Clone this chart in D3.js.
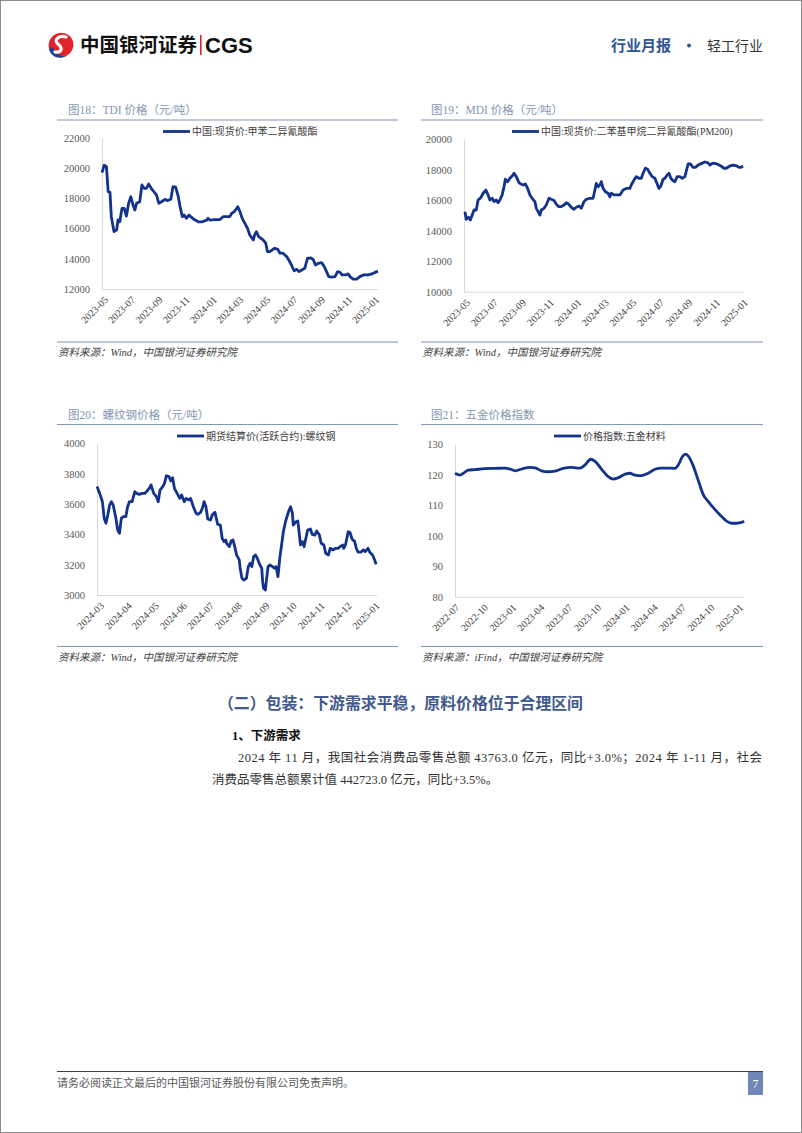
<!DOCTYPE html>
<html lang="zh">
<head>
<meta charset="UTF-8">
<title>轻工行业 月报</title>
<script src="https://cdn.jsdelivr.net/npm/d3@7/dist/d3.min.js"></script>
<style>
  * { box-sizing: border-box; padding: 0; margin: 0; border: 0; }
  body { background: #fff; }
</style>
</head>
<body>
<svg id="page" width="802" height="1133"></svg>
<script>
// ---------- data ----------
var tdiDates = ["2023-04-27","2023-05-02","2023-05-07","2023-05-11","2023-05-15","2023-05-18","2023-05-24","2023-05-30","2023-06-02","2023-06-06","2023-06-11","2023-06-16","2023-06-21","2023-06-26","2023-07-01","2023-07-06","2023-07-10","2023-07-14","2023-07-21","2023-07-26","2023-07-31","2023-08-05","2023-08-10","2023-08-16","2023-08-22","2023-08-28","2023-09-02","2023-09-08","2023-09-16","2023-09-21","2023-09-29","2023-10-04","2023-10-10","2023-10-16","2023-10-20","2023-10-25","2023-10-29","2023-11-03","2023-11-09","2023-11-13","2023-11-21","2023-11-30","2023-12-09","2023-12-19","2023-12-22","2023-12-26","2024-01-06","2024-01-18","2024-01-25","2024-02-09","2024-02-13","2024-02-19","2024-02-27","2024-03-03","2024-03-08","2024-03-14","2024-03-20","2024-03-25","2024-04-02","2024-04-05","2024-04-09","2024-04-14","2024-04-24","2024-04-30","2024-05-04","2024-05-09","2024-05-14","2024-05-20","2024-05-27","2024-06-01","2024-06-08","2024-06-16","2024-06-21","2024-06-27","2024-07-03","2024-07-09","2024-07-14","2024-07-20","2024-07-27","2024-08-02","2024-08-10","2024-08-15","2024-08-20","2024-08-26","2024-09-03","2024-09-09","2024-09-14","2024-09-19","2024-09-25","2024-10-03","2024-10-09","2024-10-14","2024-10-19","2024-10-27","2024-11-02","2024-11-06","2024-11-13","2024-11-21","2024-11-28","2024-12-06","2024-12-17","2024-12-25","2025-01-05","2025-01-08"];
var tdiPrices = [19700,20200,20100,18450,18400,16790,15800,15900,16570,16450,17340,17340,16830,17680,18110,17560,17230,17680,17780,18890,18670,18670,18950,18670,18440,18220,17680,17780,17940,17850,17940,18780,18750,18110,17450,16790,16900,16680,16900,16790,16600,16450,16450,16560,16680,16560,16600,16600,16790,16790,17000,17120,17450,17120,16680,16350,16020,15580,15250,15580,15800,15470,15250,15030,14470,14470,14580,14700,14630,14370,14370,14150,13920,13590,13210,13300,13150,13260,13370,14020,14060,13950,13590,13700,13740,13480,13150,12820,12780,12820,13150,13110,12930,12930,13000,12820,12660,12660,12820,12930,12930,13000,13150,13150];

var mdiDates = ["2023-04-29","2023-05-02","2023-05-07","2023-05-11","2023-05-15","2023-05-19","2023-05-24","2023-05-28","2023-06-03","2023-06-08","2023-06-14","2023-06-19","2023-06-23","2023-06-28","2023-07-02","2023-07-07","2023-07-11","2023-07-15","2023-07-20","2023-07-24","2023-07-27","2023-08-01","2023-08-06","2023-08-11","2023-08-15","2023-08-20","2023-08-26","2023-08-30","2023-09-04","2023-09-09","2023-09-14","2023-09-19","2023-09-24","2023-09-30","2023-10-03","2023-10-07","2023-10-11","2023-10-14","2023-10-20","2023-10-25","2023-10-31","2023-11-05","2023-11-11","2023-11-16","2023-11-21","2023-11-27","2023-12-03","2023-12-08","2023-12-13","2023-12-19","2023-12-25","2023-12-30","2024-01-05","2024-01-10","2024-01-16","2024-01-21","2024-01-29","2024-02-05","2024-02-09","2024-02-12","2024-02-16","2024-02-20","2024-02-23","2024-02-27","2024-03-03","2024-03-09","2024-03-13","2024-03-16","2024-03-22","2024-03-28","2024-04-04","2024-04-11","2024-04-18","2024-04-26","2024-04-29","2024-05-05","2024-05-10","2024-05-16","2024-05-21","2024-05-25","2024-05-30","2024-06-04","2024-06-09","2024-06-14","2024-06-20","2024-06-23","2024-06-29","2024-07-03","2024-07-08","2024-07-12","2024-07-17","2024-07-21","2024-07-25","2024-07-30","2024-08-03","2024-08-08","2024-08-14","2024-08-19","2024-08-25","2024-08-29","2024-09-01","2024-09-06","2024-09-12","2024-09-17","2024-09-23","2024-10-01","2024-10-08","2024-10-14","2024-10-19","2024-10-24","2024-10-30","2024-11-05","2024-11-12","2024-11-19","2024-11-24","2024-12-02","2024-12-09","2024-12-17","2024-12-22","2024-12-26","2024-12-31"];
var mdiPrices = [15250,14750,14880,14700,15030,15360,15360,16020,16170,16460,16670,16350,16020,16130,15910,16020,15840,16020,16350,16890,17380,17220,17440,17590,17770,17550,17150,17070,17000,17070,16780,16350,16130,15910,15470,15250,15030,15360,15470,15690,16130,16060,15980,15750,15580,15580,15690,15840,15750,15540,15410,15540,15620,15470,15910,16060,16130,16130,16670,17110,16890,17000,17220,16780,16560,16460,16230,16460,16350,16350,16350,16670,16780,16780,17000,17330,17550,17440,17440,17770,18100,18030,17770,17550,17440,17220,16780,16930,17380,17440,17660,17770,17440,17280,17220,17550,17550,17440,17550,18030,18380,18380,18160,18160,18310,18420,18510,18470,18310,18420,18420,18360,18250,18100,18100,18250,18310,18250,18160,18160,18250];

var rebarDates = ["2024-02-27","2024-03-01","2024-03-04","2024-03-06","2024-03-08","2024-03-10","2024-03-12","2024-03-14","2024-03-16","2024-03-19","2024-03-21","2024-03-23","2024-03-25","2024-03-27","2024-03-30","2024-04-01","2024-04-03","2024-04-06","2024-04-09","2024-04-11","2024-04-14","2024-04-17","2024-04-20","2024-04-22","2024-04-25","2024-04-27","2024-04-30","2024-05-03","2024-05-05","2024-05-07","2024-05-10","2024-05-12","2024-05-14","2024-05-17","2024-05-19","2024-05-21","2024-05-23","2024-05-26","2024-05-29","2024-05-31","2024-06-03","2024-06-05","2024-06-08","2024-06-10","2024-06-13","2024-06-16","2024-06-18","2024-06-21","2024-06-23","2024-06-25","2024-06-27","2024-06-29","2024-07-02","2024-07-04","2024-07-07","2024-07-09","2024-07-10","2024-07-13","2024-07-15","2024-07-17","2024-07-19","2024-07-20","2024-07-23","2024-07-25","2024-07-27","2024-07-29","2024-07-31","2024-08-03","2024-08-04","2024-08-06","2024-08-08","2024-08-11","2024-08-13","2024-08-15","2024-08-17","2024-08-19","2024-08-21","2024-08-23","2024-08-26","2024-08-28","2024-08-29","2024-08-30","2024-09-01","2024-09-02","2024-09-04","2024-09-06","2024-09-09","2024-09-11","2024-09-13","2024-09-15","2024-09-17","2024-09-19","2024-09-21","2024-09-23","2024-09-25","2024-09-27","2024-09-29","2024-10-01","2024-10-02","2024-10-05","2024-10-07","2024-10-08","2024-10-10","2024-10-12","2024-10-14","2024-10-16","2024-10-18","2024-10-21","2024-10-23","2024-10-26","2024-10-28","2024-10-31","2024-11-02","2024-11-05","2024-11-07","2024-11-10","2024-11-12","2024-11-15","2024-11-18","2024-11-21","2024-11-23","2024-11-26","2024-11-27","2024-11-29","2024-12-02","2024-12-04","2024-12-06","2024-12-07","2024-12-09","2024-12-11","2024-12-13","2024-12-16","2024-12-19","2024-12-21","2024-12-24","2024-12-26","2024-12-29","2024-12-31","2025-01-02"];
var rebarPrices = [3715,3670,3615,3505,3473,3527,3593,3615,3593,3505,3428,3407,3505,3516,3516,3582,3615,3615,3681,3670,3663,3670,3670,3681,3703,3725,3670,3648,3615,3692,3714,3736,3786,3780,3752,3773,3703,3670,3637,3659,3615,3637,3626,3637,3582,3539,3532,3545,3571,3615,3582,3501,3494,3527,3545,3494,3466,3461,3374,3352,3363,3341,3319,3356,3363,3319,3264,3231,3176,3110,3099,3110,3187,3209,3187,3253,3264,3242,3198,3176,3088,3044,3033,3088,3187,3198,3187,3176,3187,3121,3242,3330,3417,3473,3516,3554,3582,3539,3461,3483,3488,3440,3330,3352,3319,3374,3428,3435,3400,3395,3422,3395,3341,3330,3275,3264,3308,3297,3308,3308,3319,3330,3308,3330,3417,3412,3374,3363,3356,3308,3282,3282,3297,3286,3308,3282,3264,3237,3202];

var hwDates = ["2022-07-01","2022-07-17","2022-07-28","2022-08-12","2022-09-03","2022-10-05","2022-11-07","2022-12-09","2022-12-25","2023-01-12","2023-02-01","2023-02-28","2023-03-16","2023-04-06","2023-04-28","2023-05-19","2023-06-15","2023-07-12","2023-08-08","2023-08-24","2023-09-12","2023-09-25","2023-10-17","2023-11-07","2023-11-23","2023-12-09","2024-01-01","2024-01-16","2024-02-01","2024-02-22","2024-03-15","2024-04-06","2024-04-27","2024-05-19","2024-06-09","2024-06-20","2024-07-03","2024-07-14","2024-07-24","2024-08-07","2024-08-23","2024-09-09","2024-09-25","2024-10-11","2024-11-02","2024-11-23","2024-12-09","2024-12-25","2025-01-10","2025-01-19"];
var hwIndex = [120.5,119.9,120.5,121.5,121.7,122.0,122.1,122.2,121.9,121.3,121.9,122.4,122.3,121.3,121.0,121.2,122.1,122.4,122.2,123.2,125.1,124.5,121.8,119.4,118.6,119.0,120.2,120.5,119.9,119.7,120.5,121.8,122.2,122.2,122.1,123.2,125.9,126.8,125.9,123.0,118.3,113.4,111.2,109.2,106.8,104.8,104.1,104.1,104.4,104.6];

var tdiTicks = ["2023-05","2023-07","2023-09","2023-11","2024-01","2024-03","2024-05","2024-07","2024-09","2024-11","2025-01"];
var mdiTicks = ["2023-05","2023-07","2023-09","2023-11","2024-01","2024-03","2024-05","2024-07","2024-09","2024-11","2025-01"];
var rebarTicks = ["2024-03","2024-04","2024-05","2024-06","2024-07","2024-08","2024-09","2024-10","2024-11","2024-12","2025-01"];
var hwTicks = ["2022-07","2022-10","2023-01","2023-04","2023-07","2023-10","2024-01","2024-04","2024-07","2024-10","2025-01"];

var tdiYTicks = [12000,14000,16000,18000,20000,22000];
var mdiYTicks = [10000,12000,14000,16000,18000,20000];
var rebarYTicks = [3000,3200,3400,3600,3800,4000];
var hwYTicks = [80,90,100,110,120,130];

// ---------- page ----------
var SERIF = "'Liberation Serif','Times New Roman','Noto Sans CJK SC',serif";
var SANS = "'Liberation Sans','Noto Sans CJK SC',sans-serif";
var lineColor = "#12328c";
var frameColor = "#8497b0";

var parseDay = d3.timeParse("%Y-%m-%d");
var parseMonth = d3.timeParse("%Y-%m");
var fmtMonth = d3.timeFormat("%Y-%m");

var svg = d3.select("#page");

svg.append("rect").attr("x", 0.5).attr("y", 0.5).attr("width", 801).attr("height", 1132)
    .attr("fill", "#fff").attr("stroke", "#8c8c8c");

// header logo
var logo = svg.append("g").attr("transform", "translate(61,45)");
logo.append("ellipse").attr("rx", 12.5).attr("ry", 12).attr("fill", "#e1232b")
    .attr("transform", "rotate(-30)");
logo.append("path").attr("d", "M-12,4 C-10,12 -2,15 6,11 C0,12 -6,9 -8,2 Z").attr("fill", "#1e3f93");
logo.append("path").attr("d", "M5,-8 C-2,-10 -8,-5 -3,-1 C2,3 1,8 -6,7")
    .attr("fill", "none").attr("stroke", "#fff").attr("stroke-width", 3.2).attr("stroke-linecap", "round");

svg.append("text").attr("x", 80).attr("y", 52).text("中国银河证券")
    .attr("font-family", "'Noto Sans CJK SC',sans-serif").attr("font-weight", 700)
    .attr("font-size", 19.5).attr("fill", "#111");
svg.append("rect").attr("x", 200).attr("y", 35).attr("width", 1.6).attr("height", 20).attr("fill", "#d9252b");
svg.append("text").attr("x", 205).attr("y", 53).text("CGS")
    .attr("font-family", SANS).attr("font-weight", 700).attr("font-size", 22).attr("fill", "#111");

svg.append("text").attr("x", 611).attr("y", 51).text("行业月报")
    .attr("font-family", SERIF).attr("font-size", 15).attr("font-weight", 700).attr("fill", "#2f5597");
svg.append("circle").attr("cx", 689).attr("cy", 45.5).attr("r", 2).attr("fill", "#2f5597");
svg.append("text").attr("x", 707).attr("y", 51).text("轻工行业")
    .attr("font-family", SERIF).attr("font-size", 14).attr("fill", "#333");

// ---------- charts ----------
var charts = [
    { title: "图18：TDI 价格（元/吨）", legend: "中国:现货价:甲苯二异氰酸酯", source: "资料来源：Wind，中国银河证券研究院",
      dates: tdiDates, values: tdiPrices, ticks: tdiTicks, yTicks: tdiYTicks,
      left: 57, right: 398, top: 120, bottom: 342, titleX: 68,
      px: [102, 378], py: [289, 138], xd: ["2023-04-27", "2025-01-08"], legendX: 163, curve: d3.curveLinear },
    { title: "图19：MDI 价格（元/吨）", legend: "中国:现货价:二苯基甲烷二异氰酸酯(PM200)", source: "资料来源：Wind，中国银河证券研究院",
      dates: mdiDates, values: mdiPrices, ticks: mdiTicks, yTicks: mdiYTicks,
      left: 421, right: 763, top: 120, bottom: 342, titleX: 431,
      px: [464, 744], py: [291.7, 139.3], xd: ["2023-04-27", "2025-01-02"], legendX: 512, curve: d3.curveLinear },
    { title: "图20：螺纹钢价格（元/吨）", legend: "期货结算价(活跃合约):螺纹钢", source: "资料来源：Wind，中国银河证券研究院",
      dates: rebarDates, values: rebarPrices, ticks: rebarTicks, yTicks: rebarYTicks,
      left: 57, right: 398, top: 424.5, bottom: 646.5, titleX: 68,
      px: [97, 377], py: [595, 443.3], xd: ["2024-02-27", "2025-01-03"], legendX: 177, curve: d3.curveLinear },
    { title: "图21：五金价格指数", legend: "价格指数:五金材料", source: "资料来源：iFind，中国银河证券研究院",
      dates: hwDates, values: hwIndex, ticks: hwTicks, yTicks: hwYTicks,
      left: 421, right: 763, top: 424.5, bottom: 646.5, titleX: 431,
      px: [455, 744.3], py: [596.7, 444.3], xd: ["2022-07-01", "2025-01-19"], legendX: 554, curve: d3.curveMonotoneX }
];

charts.forEach(function (c) {
    var g = svg.append("g");

    // title + frame lines
    g.append("text").attr("x", c.titleX).attr("y", c.top - 6).text(c.title)
        .attr("font-family", SERIF).attr("font-size", 11.5).attr("fill", frameColor);
    g.append("line").attr("x1", c.left).attr("x2", c.right).attr("y1", c.top).attr("y2", c.top)
        .attr("stroke", frameColor).attr("stroke-width", 1.2);
    g.append("line").attr("x1", c.left).attr("x2", c.right).attr("y1", c.bottom).attr("y2", c.bottom)
        .attr("stroke", frameColor).attr("stroke-width", 1.2);
    g.append("text").attr("x", c.left + 1).attr("y", c.bottom + 14).text(c.source)
        .attr("font-family", SERIF).attr("font-style", "italic").attr("font-size", 10.5).attr("fill", "#404040");

    var x = d3.scaleTime().domain(c.xd.map(parseDay)).range(c.px);
    var y = d3.scaleLinear().domain([c.yTicks[0], c.yTicks[c.yTicks.length - 1]]).range(c.py);

    // y axis
    var yAxis = g.append("g").attr("transform", "translate(" + c.px[0] + ",0)")
        .call(d3.axisLeft(y).tickValues(c.yTicks).tickSize(0).tickPadding(12).tickFormat(d3.format("d")));
    yAxis.select(".domain").attr("stroke", "#d9d9d9").attr("stroke-width", 1);
    yAxis.selectAll("text").attr("font-family", SERIF).attr("font-size", 10.5).attr("fill", "#595959");

    // x axis
    var xAxis = g.append("g").attr("transform", "translate(0," + c.py[0] + ")")
        .call(d3.axisBottom(x).tickValues(c.ticks.map(parseMonth)).tickSize(0).tickFormat(fmtMonth));
    xAxis.select(".domain").attr("stroke", "#d9d9d9").attr("stroke-width", 1)
        .attr("d", "M" + c.px[0] + ",0.5H" + c.px[1]);
    xAxis.selectAll("text")
        .attr("font-family", SERIF).attr("font-size", 10).attr("fill", "#404040")
        .attr("text-anchor", "end").attr("dy", "0.35em").attr("y", 0)
        .attr("transform", "translate(2,9) rotate(-45)");

    // series
    var pts = c.dates.map(function (d, i) { return [parseDay(d), c.values[i]]; });
    g.append("path").datum(pts)
        .attr("fill", "none").attr("stroke", lineColor).attr("stroke-width", 2.8)
        .attr("stroke-linejoin", "round")
        .attr("d", d3.line().curve(c.curve).x(function (d) { return x(d[0]); }).y(function (d) { return y(d[1]); }));

    // legend
    var ly = c.top + 11.5;
    g.append("line").attr("x1", c.legendX).attr("x2", c.legendX + 27).attr("y1", ly).attr("y2", ly)
        .attr("stroke", lineColor).attr("stroke-width", 2.8);
    g.append("text").attr("x", c.legendX + 29).attr("y", ly).attr("dy", "0.35em").text(c.legend)
        .attr("font-family", SERIF).attr("font-size", 10).attr("fill", "#404040");
});

// ---------- text body ----------
svg.append("text").attr("x", 218).attr("y", 709).text("（二）包装：下游需求平稳，原料价格位于合理区间")
    .attr("font-family", SERIF).attr("font-size", 16).attr("font-weight", 700).attr("fill", "#41598c")
    .attr("textLength", 365).attr("lengthAdjust", "spacingAndGlyphs");
svg.append("text").attr("x", 232).attr("y", 740).text("1、下游需求")
    .attr("font-family", SERIF).attr("font-size", 12.5).attr("font-weight", 700).attr("fill", "#111");
svg.append("text").attr("x", 238).attr("y", 762)
    .text("2024 年 11 月，我国社会消费品零售总额 43763.0 亿元，同比+3.0%；2024 年 1-11 月，社会")
    .attr("font-family", SERIF).attr("font-size", 12.5).attr("fill", "#333")
    .attr("textLength", 524).attr("lengthAdjust", "spacing");
svg.append("text").attr("x", 212).attr("y", 784)
    .text("消费品零售总额累计值 442723.0 亿元，同比+3.5%。")
    .attr("font-family", SERIF).attr("font-size", 12.5).attr("fill", "#333");

// ---------- footer ----------
svg.append("line").attr("x1", 57).attr("x2", 763).attr("y1", 1071.5).attr("y2", 1071.5)
    .attr("stroke", "#404040").attr("stroke-width", 1);
svg.append("text").attr("x", 57).attr("y", 1087).text("请务必阅读正文最后的中国银河证券股份有限公司免责声明。")
    .attr("font-family", SERIF).attr("font-size", 11).attr("fill", "#595959");
svg.append("rect").attr("x", 748).attr("y", 1072).attr("width", 15).attr("height", 23).attr("fill", "#6f86b6");
svg.append("text").attr("x", 755.5).attr("y", 1088).text("7").attr("text-anchor", "middle")
    .attr("font-family", SERIF).attr("font-size", 12).attr("fill", "#fff");
</script>
</body>
</html>
